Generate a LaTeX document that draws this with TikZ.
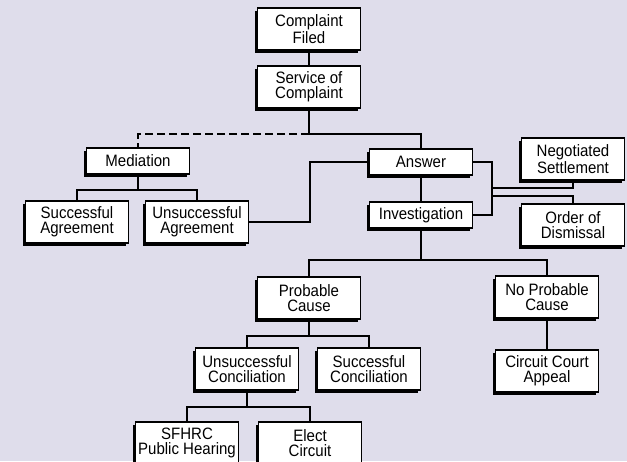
\documentclass[tikz,border=0pt]{standalone}
\usepackage{fontspec}
\setmainfont{Liberation Sans}[FakeStretch=0.91]
\usepackage{tikz}
\usetikzlibrary{shadows}
\definecolor{bgpanel}{RGB}{223,221,235}
\begin{document}
\begin{tikzpicture}[x=1pt,y=-1pt]
            \tikzstyle{box}=[draw,fill=white,line width=1.2pt,align=center,minimum width=103pt,minimum height=26pt,inner sep=1pt,font=\fontsize{16.5}{15}\selectfont,drop shadow={shadow xshift=-3pt,shadow yshift=-3pt,opacity=1,fill=black}]
            \tikzstyle{tall}=[minimum height=42pt]
            \tikzstyle{link}=[line width=2.8pt]
            \fill[bgpanel] (0,0) rectangle (627,461);
            \useasboundingbox (0,0) rectangle (627,461);
            \clip (0,0) rectangle (627,461);
            % top of the chart
            \node[box,tall] (filed) at (309,29) {Complaint\\Filed};
            \node[box,tall] (service) at (309,87) {Service of\\Complaint};
            \node[box] (mediation) at (138,161) {Mediation};
            \node[box,tall] (succagr) at (77,222) {Successful\\Agreement};
            \node[box,tall] (unsuccagr) at (197,222) {Unsuccessful\\Agreement};
            \node[box] (answer) at (421,162) {Answer};
            \node[box] (investig) at (421,215) {Investigation};
            \node[box,tall] (settle) at (573,159) {Negotiated\\Settlement};
            \node[box,tall] (dismiss) at (573,225) {Order of\\Dismissal};
            % findings
            \node[box,tall] (probable) at (309,298) {Probable\\Cause};
            \node[box,tall] (noprob) at (547,297) {No Probable\\Cause};
            \node[box,tall] (appeal) at (547,371) {Circuit Court\\Appeal};
            \node[box,tall] (unsucconc) at (247,369) {Unsuccessful\\Conciliation};
            \node[box,tall] (succonc) at (369,369) {Successful\\Conciliation};
            \node[box,tall] (hearing) at (187,443) {SFHRC\\Public Hearing};
            \node[box,tall] (elect) at (310,443) {Elect\\Circuit};
            % junctions
            \coordinate (servj) at (309,134);
            \coordinate (medj) at (138,190);
            \coordinate (unsj) at (310,222);
            \coordinate (ansj) at (492,162);
            \coordinate (setj) at (492,188);
            \coordinate (disj) at (492,196);
            \coordinate (invj) at (421,260);
            \coordinate (probj) at (309,336);
            \coordinate (concj) at (247,407);
            % connectors
            \draw[link] (filed) -- (service);
            \draw[link] (service) -- (servj) -| (answer.north);
            \draw[link,dashed,dash pattern=on 8pt off 4pt] (servj) -| (mediation.north);
            \draw[link] (mediation) -- (medj);
            \draw[link] (succagr.north) |- (medj) -| (unsuccagr.north);
            \draw[link] (unsuccagr.east) -- (unsj) |- (answer.west);
            \draw[link] (answer) -- (investig);
            \draw[link] (answer.east) -- (ansj) |- (investig.east);
            \draw[link] (setj) -| (settle.south);
            \draw[link] (disj) -| (dismiss.north);
            \draw[link] (investig) -- (invj);
            \draw[link] (probable.north) |- (invj) -| (noprob.north);
            \draw[link] (noprob) -- (appeal);
            \draw[link] (probable) -- (probj);
            \draw[link] (unsucconc.north) |- (probj) -| (succonc.north);
            \draw[link] (unsucconc) -- (concj);
            \draw[link] (hearing.north) |- (concj) -| (elect.north);
\end{tikzpicture}
\end{document}
